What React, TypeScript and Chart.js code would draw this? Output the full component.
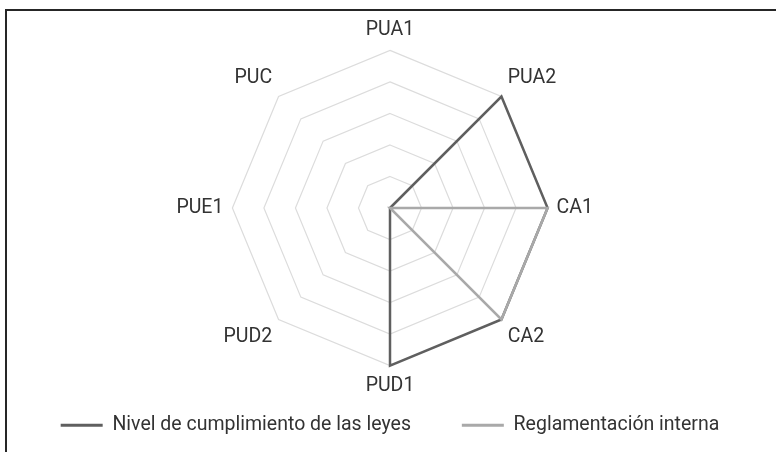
import React, { useEffect, useRef } from "react";
import { Chart, registerables } from "chart.js";

Chart.register(...registerables);

const categories = ["PUA1", "PUA2", "CA1", "CA2", "PUD1", "PUD2", "PUE1", "PUC"];
const seriesNames = ["Nivel de cumplimiento de las leyes", "Reglamentación interna"];
const nivelValues = [0, 5, 5, 5, 5, 0, 0, 0];
const reglamentoValues = [0, 0, 5, 5, 0, 0, 0, 0];
const scaleMax = 5;

export default function App() {
  const ref = useRef<HTMLCanvasElement>(null);
  useEffect(() => {
    document.body.style.margin = "0";
    document.body.style.overflow = "hidden";
    document.documentElement.style.overflow = "hidden";
    const ctx = ref.current!;
    const chart = new Chart(ctx, {
      type: "radar",
      data: {
        labels: categories,
        datasets: [
          {
            label: seriesNames[0],
            data: nivelValues,
            borderColor: "#5f5f5f",
            backgroundColor: "#5f5f5f",
            borderWidth: 2.5,
            fill: false,
            pointRadius: 0,
            pointHoverRadius: 0,
            tension: 0,
            order: 2,
          },
          {
            label: seriesNames[1],
            data: reglamentoValues,
            borderColor: "#a9a9a9",
            backgroundColor: "#a9a9a9",
            borderWidth: 2.5,
            fill: false,
            pointRadius: 0,
            pointHoverRadius: 0,
            tension: 0,
            order: 1,
          },
        ],
      },
      options: {
        animation: false,
        responsive: false,
        layout: { padding: { top: 18, bottom: 7, left: 4, right: 0 } },
        plugins: {
          tooltip: { enabled: false },
          legend: {
            position: "bottom",
            labels: {
              boxWidth: 42,
              boxHeight: 3,
              padding: 17,
              color: "#333333",
              font: { family: "Roboto", size: 19.5 },
              sort: (a: any, b: any) => a.datasetIndex - b.datasetIndex,
              generateLabels: (c: any) =>
                Chart.defaults.plugins.legend.labels
                  .generateLabels(c)
                  .map((l: any) => ({
                    ...l,
                    lineWidth: 0,
                    text: l.datasetIndex === 0 ? l.text + "       " : l.text,
                  })),
            },
          },
        },
        scales: {
          r: {
            min: 0,
            max: scaleMax,
            ticks: { stepSize: 1, display: false },
            angleLines: { display: false },
            grid: { color: "#dcdcdc", lineWidth: 1.2 },
            pointLabels: {
              color: "#333333",
              font: { family: "Roboto", size: 19.5 },
              padding: 9,
            },
          },
        },
      },
    });
    return () => chart.destroy();
  }, []);
  return (
    <div style={{ position: "relative", width: 776, height: 452, overflow: "hidden", background: "#fff" }}>
      <canvas ref={ref} width={776} height={452} style={{ position: "absolute", left: 0, top: 0 }} />
      <div
        style={{
          position: "absolute",
          left: 5,
          top: 9,
          width: 820,
          height: 500,
          border: "2px solid #262626",
          boxSizing: "border-box",
          pointerEvents: "none",
        }}
      />
    </div>
  );
}
